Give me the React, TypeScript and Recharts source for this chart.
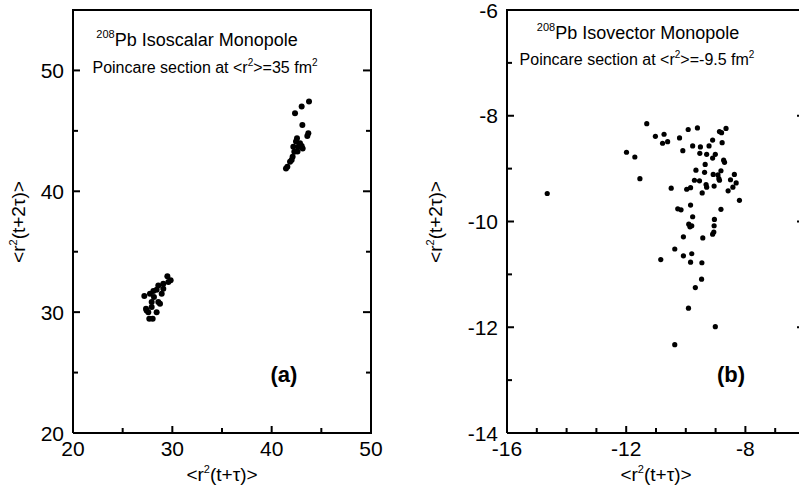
import { ScatterChart, Scatter, XAxis, YAxis } from "recharts";

// (a) isoscalar monopole, points as [x, y]
const isoscalarPoints: [number, number][] = [
  [43.76, 47.43], [43.02, 47.01], [42.35, 46.46], [43.09, 45.49], [43.59, 44.58],
  [43.69, 44.8], [42.55, 44.38], [42.45, 44.11], [42.18, 43.69], [42.68, 43.69],
  [43.02, 43.75], [42.85, 43.97], [42.28, 43.28], [42.11, 42.86], [41.85, 42.45],
  [41.58, 42.03], [41.44, 41.89], [42.01, 42.59], [43.12, 43.55], [42.6, 43.3],
  [27.18, 31.33], [29.5, 32.96], [29.83, 32.63], [29.09, 32.35], [28.59, 32.21],
  [28.09, 31.74], [28.42, 31.85], [29.09, 31.94], [27.75, 31.52], [28.15, 31.25],
  [27.92, 30.83], [28.59, 30.83], [28.76, 30.69], [27.35, 30.28], [27.58, 30.0],
  [28.42, 30.0], [27.68, 29.45], [28.02, 29.45], [27.41, 30.14], [27.92, 30.42],
  [28.93, 31.52], [29.6, 32.49],
];

// (b) isovector monopole
const isovectorPoints: [number, number][] = [
  [-11.31, -8.15], [-11.02, -8.39], [-10.73, -8.35], [-10.78, -8.52], [-10.61, -8.49],
  [-10.21, -8.42], [-9.92, -8.26], [-9.61, -8.23], [-10.1, -8.66], [-9.77, -8.57],
  [-9.51, -8.59], [-9.53, -8.71], [-9.22, -8.57], [-9.1, -8.46], [-8.87, -8.3],
  [-8.8, -8.32], [-8.65, -8.24], [-8.78, -8.51], [-9.3, -8.73], [-9.01, -8.73],
  [-9.1, -8.8], [-9.35, -8.92], [-8.73, -8.84], [-8.7, -8.88], [-11.99, -8.69],
  [-11.71, -8.78], [-11.54, -9.19], [-14.65, -9.47], [-10.49, -9.37], [-9.97, -9.39],
  [-9.84, -9.36], [-9.66, -9.03], [-9.71, -9.22], [-9.54, -9.23], [-9.37, -9.07],
  [-9.45, -9.46], [-9.32, -9.3], [-9.3, -9.35], [-9.08, -9.11], [-9.05, -9.33],
  [-8.92, -9.12], [-8.89, -9.19], [-8.82, -9.04], [-8.87, -9.22], [-8.5, -9.21],
  [-8.37, -9.11], [-8.31, -9.27], [-8.42, -9.35], [-8.58, -9.42], [-8.2, -9.6],
  [-10.27, -9.76], [-10.16, -9.78], [-9.84, -9.69], [-9.77, -9.91], [-9.9, -10.05],
  [-9.86, -10.1], [-9.8, -10.08], [-8.82, -9.77], [-9.04, -9.96], [-9.05, -10.08],
  [-9.06, -10.2], [-9.1, -10.24], [-10.08, -10.29], [-9.43, -10.31], [-10.37, -10.52],
  [-10.84, -10.72], [-10.08, -10.65], [-9.8, -10.61], [-9.84, -10.77], [-9.46, -10.78],
  [-9.47, -11.09], [-9.68, -11.25], [-9.91, -11.64], [-9.01, -11.99], [-10.37, -12.33],
];

const ticksAX = [20, 25, 30, 35, 40, 45, 50];
const ticksAY = [20, 25, 30, 35, 40, 45, 50, 55];
const labelsAX = [20, 30, 40, 50];
const labelsAY = [20, 30, 40, 50];

const ticksBX = [-16, -15, -14, -13, -12, -11, -10, -9, -8, -7, -6];
const ticksBY = [-14, -13, -12, -11, -10, -9, -8, -7, -6];
const labelsBX = [-16, -12, -8];
const labelsBY = [-14, -12, -10, -8, -6];

const FONT = "'Liberation Sans', Arial, Helvetica, sans-serif";
const TICK_FONT = 21;
const H = 489;
const TOP = 10;
const X_AXIS_H = 56;
const BOTTOM = H - X_AXIS_H;

const toRows = (pts: [number, number][]) => pts.map(([x, y]) => ({ x, y }));

function bottomTick(labels: number[]) {
  return (p: any) => {
    const v = p.payload.value;
    const major = labels.includes(v);
    const len = major ? 7 : 5;
    return (
      <g>
        <rect x={p.x - 1} y={p.y - len} width={2} height={len} fill="#000" />
        {major && (
          <text x={p.x} y={p.y + 23} textAnchor="middle" fontSize={TICK_FONT} fontFamily={FONT} fill="#000">
            {v}
          </text>
        )}
      </g>
    );
  };
}

function leftTick(labels: number[]) {
  return (p: any) => {
    const v = p.payload.value;
    const major = labels.includes(v);
    const len = major ? 7 : 5;
    return (
      <g>
        <rect x={p.x} y={p.y - 1} width={len} height={2} fill="#000" />
        {major && (
          <text x={p.x - 9} y={p.y + 7.5} textAnchor="end" fontSize={TICK_FONT} fontFamily={FONT} fill="#000">
            {v}
          </text>
        )}
      </g>
    );
  };
}

interface PanelProps {
  points: [number, number][];
  xDomain: [number, number];
  yDomain: [number, number];
  xTicks: number[];
  yTicks: number[];
  xLabels: number[];
  yLabels: number[];
  width: number;
  yAxisWidth: number;
  right: number;
  r: number;
}

function Panel({ points, xDomain, yDomain, xTicks, yTicks, xLabels, yLabels, width, yAxisWidth, right, r }: PanelProps) {
  const axisLine = { stroke: "#000", strokeWidth: 2 };
  const plotLeft = yAxisWidth;
  const plotRight = width - right;
  const yPix = (v: number) => TOP + ((yDomain[1] - v) / (yDomain[1] - yDomain[0])) * (BOTTOM - TOP);
  return (
    <div style={{ position: "relative", width, height: H }}>
      <ScatterChart width={width} height={H} margin={{ top: TOP, right, bottom: 0, left: 0 }}>
        <XAxis
          type="number"
          dataKey="x"
          domain={xDomain}
          ticks={xTicks}
          interval={0}
          allowDataOverflow
          tickSize={0}
          tickMargin={0}
          height={X_AXIS_H}
          axisLine={axisLine}
          tickLine={false}
          tick={bottomTick(xLabels)}
        />
        <YAxis
          type="number"
          dataKey="y"
          domain={yDomain}
          ticks={yTicks}
          interval={0}
          allowDataOverflow
          tickSize={0}
          tickMargin={0}
          width={yAxisWidth}
          axisLine={axisLine}
          tickLine={false}
          tick={leftTick(yLabels)}
        />
        <Scatter
          data={toRows(points)}
          fill="#000"
          isAnimationActive={false}
          shape={(p: any) => <circle cx={p.cx} cy={p.cy} r={r} fill="#000" />}
        />
      </ScatterChart>
      {/* top and right sides of the box */}
      <div
        style={{
          position: "absolute",
          zIndex: 5,
          left: plotLeft - 1,
          top: TOP - 1,
          width: plotRight - plotLeft + 2,
          height: BOTTOM - TOP + 2,
          boxSizing: "border-box",
          borderTop: "2px solid #000",
          borderRight: "2px solid #000",
          pointerEvents: "none",
        }}
      />
      {/* inward ticks on the right side */}
      <svg width={width} height={H} style={{ position: "absolute", zIndex: 5, left: 0, top: 0, pointerEvents: "none" }}>
        {yTicks.map((v) => {
          const len = yLabels.includes(v) ? 8 : 5;
          return <rect key={v} x={plotRight - len} y={yPix(v) - 1} width={len} height={2} fill="#000" />;
        })}
      </svg>
    </div>
  );
}

const txt = { fontFamily: FONT, fill: "#000" };

export default function App() {
  return (
    <div style={{ position: "absolute", left: 0, top: 0, width: 799, height: H, overflow: "hidden", background: "#fff" }}>
      <div style={{ position: "absolute", left: 0, top: 0 }}>
        <Panel
          points={isoscalarPoints}
          xDomain={[20, 50]}
          yDomain={[20, 55]}
          xTicks={ticksAX}
          yTicks={ticksAY}
          xLabels={labelsAX}
          yLabels={labelsAY}
          width={400}
          yAxisWidth={73}
          right={29}
          r={3}
        />
      </div>
      <div style={{ position: "absolute", left: 400, top: 0 }}>
        <Panel
          points={isovectorPoints}
          xDomain={[-16, -6]}
          yDomain={[-14, -6]}
          xTicks={ticksBX}
          yTicks={ticksBY}
          xLabels={labelsBX}
          yLabels={labelsBY}
          width={420}
          yAxisWidth={107}
          right={15}
          r={2.6}
        />
      </div>
      <svg width={799} height={H} style={{ position: "absolute", zIndex: 6, left: 0, top: 0, pointerEvents: "none" }}>
        {/* panel (a) */}
        <text x={197} y={46} textAnchor="middle" fontSize={18} {...txt}>
          <tspan fontSize={11} dy={-8}>208</tspan>
          <tspan dy={8}>Pb Isoscalar Monopole</tspan>
        </text>
        <text x={205} y={73} textAnchor="middle" fontSize={16} {...txt}>
          Poincare section at &lt;r<tspan fontSize={10} dy={-7}>2</tspan>
          <tspan dy={7}>&gt;=35 fm</tspan>
          <tspan fontSize={10} dy={-7}>2</tspan>
        </text>
        <text x={284} y={382} textAnchor="middle" fontSize={22} fontWeight="bold" {...txt}>
          (a)
        </text>
        <text x={222} y={481} textAnchor="middle" fontSize={19} {...txt}>
          &lt;r<tspan fontSize={11} dy={-8}>2</tspan>
          <tspan dy={8}>(t+τ)&gt;</tspan>
        </text>
        <text x={18} y={229} transform="rotate(-90, 18, 222)" textAnchor="middle" fontSize={19} {...txt}>
          &lt;r<tspan fontSize={11} dy={-8}>2</tspan>
          <tspan dy={8}>(t+2τ)&gt;</tspan>
        </text>

        {/* panel (b) */}
        <text x={638} y={39} textAnchor="middle" fontSize={18} {...txt}>
          <tspan fontSize={11} dy={-8}>208</tspan>
          <tspan dy={8}>Pb Isovector Monopole</tspan>
        </text>
        <text x={637} y={65} textAnchor="middle" fontSize={16} {...txt}>
          Poincare section at &lt;r<tspan fontSize={10} dy={-7}>2</tspan>
          <tspan dy={7}>&gt;=-9.5 fm</tspan>
          <tspan fontSize={10} dy={-7}>2</tspan>
        </text>
        <text x={731} y={382} textAnchor="middle" fontSize={22} fontWeight="bold" {...txt}>
          (b)
        </text>
        <text x={656} y={481} textAnchor="middle" fontSize={19} {...txt}>
          &lt;r<tspan fontSize={11} dy={-8}>2</tspan>
          <tspan dy={8}>(t+τ)&gt;</tspan>
        </text>
        <text x={435} y={229} transform="rotate(-90, 435, 222)" textAnchor="middle" fontSize={19} {...txt}>
          &lt;r<tspan fontSize={11} dy={-8}>2</tspan>
          <tspan dy={8}>(t+2τ)&gt;</tspan>
        </text>
      </svg>
    </div>
  );
}
